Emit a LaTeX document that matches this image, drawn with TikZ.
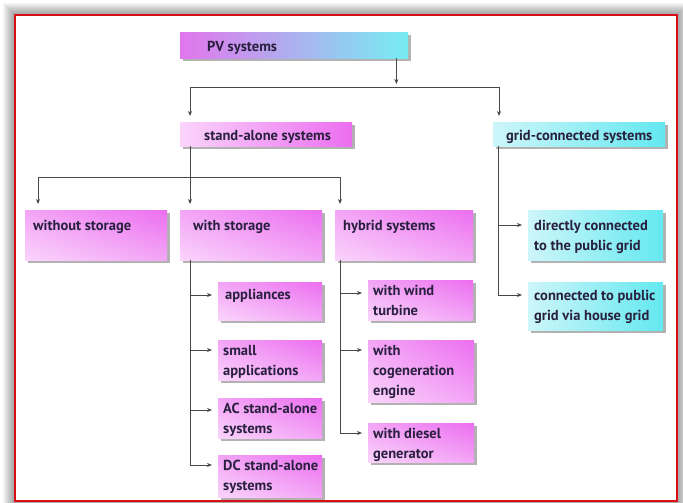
\documentclass[tikz,border=0pt]{standalone}
\usepackage{fontspec}
\newfontfamily\boxfont{PT Sans}
\usetikzlibrary{arrows.meta,shadows,shadings}

\definecolor{magStrong}{RGB}{236,110,240}
\definecolor{magMid}{RGB}{243,165,246}
\definecolor{magLight}{RGB}{250,212,251}
\definecolor{cyStrong}{RGB}{100,232,240}
\definecolor{cyLight}{RGB}{205,246,249}
\definecolor{pvMag}{RGB}{226,118,236}
\definecolor{pvMid}{RGB}{178,190,242}
\definecolor{pvCyan}{RGB}{118,236,242}
\definecolor{txtDark}{RGB}{40,32,62}
\definecolor{frameRed}{RGB}{214,16,22}

% width, height, left inset, first baseline, text
\newcommand{\boxtext}[5]{\parbox[c][#2][t]{#1}{\raggedright\leftskip=#3\baselineskip=20pt\rule{0pt}{#4}#5}}

\tikzset{
  box/.style={anchor=north west, inner sep=0pt, text=txtDark,
    font=\boxfont\bfseries\fontsize{14.5}{20}\selectfont,
    drop shadow={shadow xshift=3pt, shadow yshift=-3pt, fill=black!55, opacity=0.55}},
  magbox/.style={box, shading=bilinear interpolation, lower left=magLight,
    upper left=magMid, lower right=magMid, upper right=magStrong},
  line/.style={draw=black!72, line width=0.9pt},
  arr/.style={line, -{Stealth[length=5pt,width=4pt]}, shorten >=6pt}
}

\begin{document}
\begin{tikzpicture}[x=1pt,y=-1pt]
  \useasboundingbox (0,0) rectangle (683,503);

  % frame with its shadow
  \foreach \s in {1,...,12}
    \fill[black, opacity=0.035] (15-\s,15-\s) rectangle (677+\s,501+\s);
  \fill[white] (15,15) rectangle (677,501);
  \draw[frameRed, line width=2.5pt] (15,15) rectangle (677,501);

  % top levels
  \node[box, left color=pvMag, middle color=pvMid, right color=pvCyan] (pv) at (180,32)
    {\boxtext{228pt}{26pt}{27pt}{19pt}{PV systems}};
  \node[box, left color=magLight, right color=magStrong] (sa) at (180,122)
    {\boxtext{172pt}{24pt}{24pt}{18pt}{stand-alone systems}};
  \node[box, left color=cyLight, right color=cyStrong] (gc) at (493,122)
    {\boxtext{172pt}{24pt}{13pt}{18pt}{grid-connected systems}};

  % stand-alone systems
  \node[magbox] (wo) at (25,210)  {\boxtext{142pt}{50pt}{8pt}{20pt}{without storage}};
  \node[magbox] (ws) at (180,210) {\boxtext{142pt}{50pt}{13pt}{20pt}{with storage}};
  \node[magbox] (hy) at (335,210) {\boxtext{138pt}{50pt}{8pt}{20pt}{hybrid systems}};

  \node[magbox] (ap)  at (218,282) {\boxtext{104pt}{38pt}{7pt}{17pt}{appliances}};
  \node[magbox] (sm)  at (218,340) {\boxtext{104pt}{40pt}{5pt}{15pt}{small\\applications}};
  \node[magbox] (ac)  at (218,398) {\boxtext{104pt}{40pt}{5pt}{15pt}{AC stand-alone\\systems}};
  \node[magbox] (dcs) at (218,455) {\boxtext{104pt}{42pt}{5pt}{15pt}{DC stand-alone\\systems}};

  \node[magbox] (wt) at (368,280) {\boxtext{105pt}{40pt}{5pt}{15pt}{with wind\\turbine}};
  \node[magbox] (cg) at (368,340) {\boxtext{106pt}{62pt}{5pt}{15pt}{with\\cogeneration\\engine}};
  \node[magbox] (dg) at (368,423) {\boxtext{106pt}{39pt}{5pt}{15pt}{with diesel\\generator}};

  % grid-connected systems
  \node[box, left color=cyLight, right color=cyStrong] (dc) at (528,210)
    {\boxtext{135pt}{50pt}{6pt}{20pt}{directly connected\\to the public grid}};
  \node[box, left color=cyLight, right color=cyStrong] (cp) at (528,282)
    {\boxtext{135pt}{48pt}{6pt}{18pt}{connected to public\\grid via house grid}};

  % connectors
  \coordinate (bus1) at (0,87);
  \coordinate (bus2) at (0,177);
  \coordinate (pvx) at ([xshift=-12pt]pv.south east);
  \coordinate (sax) at ([xshift=10pt]sa.north west);
  \coordinate (gcx) at ([xshift=6pt]gc.north west);
  \draw[arr, shorten >=3pt] (pvx) -- (pvx |- bus1);
  \draw[line] (sax |- bus1) -- (gcx |- bus1);
  \draw[arr] (sax |- bus1) -- (sax);
  \draw[arr] (gcx |- bus1) -- (gcx);

  \coordinate (wox) at ([xshift=13pt]wo.north west);
  \coordinate (hyx) at ([xshift=5pt]hy.north west);
  \draw[arr] (sa.south -| sax) -- (ws.north -| sax);
  \draw[line] (wox |- bus2) -- (hyx |- bus2);
  \draw[arr] (wox |- bus2) -- (wox);
  \draw[arr] (hyx |- bus2) -- (hyx);

  \coordinate (wsd) at ([xshift=10pt]ws.south west);
  \draw[arr] (wsd) |- ([yshift=-10pt]dcs.north west);
  \foreach \n/\dy in {ap/13, sm/10, ac/12}
    \draw[arr] ([yshift=-\dy pt]wsd |- \n.north west) -- ([yshift=-\dy pt]\n.north west);

  \coordinate (hyd) at ([xshift=5pt]hy.south west);
  \draw[arr] (hyd) |- ([yshift=-10pt]dg.north west);
  \foreach \n/\dy in {wt/13, cg/10}
    \draw[arr] ([yshift=-\dy pt]hyd |- \n.north west) -- ([yshift=-\dy pt]\n.north west);

  \coordinate (gcd) at ([xshift=5pt]gc.south west);
  \draw[arr] (gcd) |- ([yshift=-13pt]cp.north west);
  \draw[arr] ([yshift=-15pt]gcd |- dc.north west) -- ([yshift=-15pt]dc.north west);
\end{tikzpicture}
\end{document}
